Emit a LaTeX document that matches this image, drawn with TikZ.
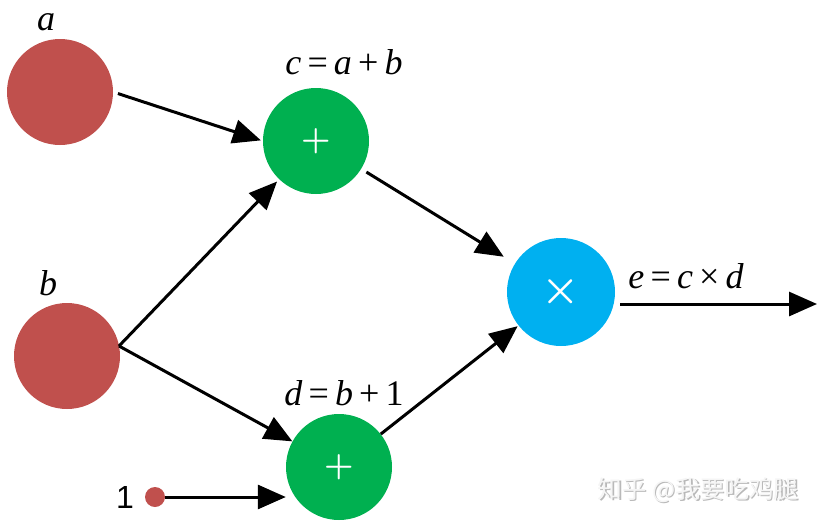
\documentclass[tikz,border=0pt]{standalone}
\usepackage{fontspec}
\newfontfamily\cjk{Noto Sans CJK SC}
\newfontfamily\arial{Liberation Sans}
\newfontfamily\tnr{Liberation Serif}
\usetikzlibrary{arrows.meta,calc}
\definecolor{nred}{HTML}{C0504D}
\definecolor{ngreen}{HTML}{00B050}
\definecolor{nblue}{HTML}{00B0F0}
\newcommand\vi[1]{{\itshape #1}}
\newcommand\gp{\hspace{0.17em}}
\begin{document}
\begin{tikzpicture}[x=1pt,y=-1pt,
  vert/.style={circle,minimum size=106pt,inner sep=0pt,draw=none},
  lbl/.style={font=\tnr\fontsize{36}{38}\selectfont,inner sep=0pt},
  arr/.style={line width=3pt,-{Triangle[length=28pt,width=24pt]}},
  optxt/.style={text=white,inner sep=0pt,font=\boldmath},
  wmark/.style={font=\cjk\fontsize{24.5}{26}\selectfont,inner sep=0pt}]
\useasboundingbox (0,0) rectangle (818,525);
% vertices
\node[vert,fill=nred] (a) at (60,92) {};
\node[vert,fill=nred] (b) at (67,356) {};
\node[vert,fill=ngreen] (c) at (316,141) {};
\node[vert,fill=ngreen] (d) at (339,467) {};
\node[vert,fill=nblue,minimum size=108pt] (e) at (561,292) {};
\node[circle,fill=nred,minimum size=20pt,inner sep=0pt] (one) at (155,497) {};
% operator signs
\node[optxt,scale=3.3] (cplus) at (c) {$+$};
\node[optxt,scale=3.3] (dplus) at (d) {$+$};
\node[optxt,scale=4.3] (etimes) at (e) {$\times$};
% labels
\node[lbl] (la) at (46,22) {\vi{a}};
\node[lbl] (lb) at (48,283) {\vi{b}};
\node[lbl] (lc) at (344,62) {\vi{c}\gp=\gp\vi{a}\gp+\gp\vi{b}};
\node[lbl] (ld) at (344,393) {\vi{d}\gp=\gp\vi{b}\gp+\gp1};
\node[lbl] (le) at (686,276) {\vi{e}\gp=\gp\vi{c}\gp×\gp\vi{d}};
\node[font=\arial\fontsize{32}{34}\selectfont,inner sep=0pt] (l1) at (125,497) {1};
% helper coordinates
\coordinate (bout) at (119,346);
\coordinate (out) at (817,304);
% connectors
\draw[arr,shorten <=5pt,shorten >=2pt] (a.east) -- (c.west);
\draw[arr,shorten >=3pt] (bout) -- (c);
\draw[arr] (bout) -- (d);
\draw[arr,shorten <=6pt,shorten >=13pt] (c) -- (e);
\draw[arr,shorten >=1pt] (d) -- (e);
\draw[arr] (one) -- (one -| d.west);
\draw[arr,shorten <=5pt] (e.east |- out) -- (out);
% watermark
\node[wmark,text=gray!55] (wms) at (699.5,491.5) {知乎 @我要吃鸡腿};
\node[wmark,text=gray!8] (wm) at (698,490) {知乎 @我要吃鸡腿};
\end{tikzpicture}
\end{document}
